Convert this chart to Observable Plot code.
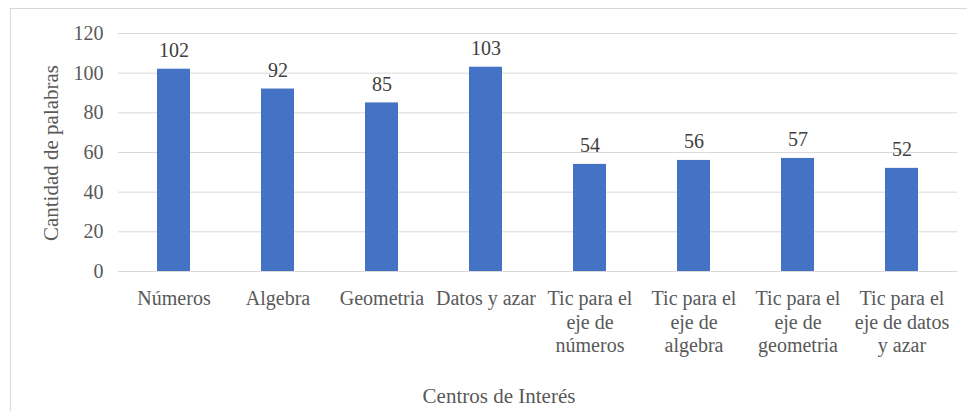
<!DOCTYPE html>
<html>
<head>
<meta charset="utf-8">
<script src="https://cdn.jsdelivr.net/npm/d3@7"></script>
<script src="https://cdn.jsdelivr.net/npm/@observablehq/plot@0.6"></script>
<style>
  html, body { margin: 0; padding: 0; background: #fff; }
  #wrap { position: relative; width: 967px; height: 411px; overflow: hidden; font-family: "Liberation Serif", "Tinos", "Times New Roman", "DejaVu Serif", serif; }
  #frame { position: absolute; left: 10px; top: 8px; width: 980px; height: 420px; border-top: 1px solid #d9d9d9; border-left: 1px solid #d9d9d9; box-sizing: border-box; }
  #chart { position: absolute; left: 0; top: 0; }
  .title { position: absolute; color: #595959; font-size: 21px; white-space: nowrap; }
  #xtitle { left: 499px; top: 384px; transform: translateX(-50%); }
  #ytitle { left: 51px; top: 153px; transform: translate(-50%, -50%) rotate(-90deg); }
</style>
</head>
<body>
<div id="wrap">
  <div id="frame"></div>
  <div id="chart"></div>
  <div class="title" id="xtitle">Centros de Interés</div>
  <div class="title" id="ytitle">Cantidad de palabras</div>
</div>
<script>
const categories = [
  "Números",
  "Algebra",
  "Geometria",
  "Datos y azar",
  "Tic para el\neje de\nnúmeros",
  "Tic para el\neje de\nalgebra",
  "Tic para el\neje de\ngeometria",
  "Tic para el\neje de datos\ny azar"
];
const values = [102, 92, 85, 103, 54, 56, 57, 52];
const yTicks = [0, 20, 40, 60, 80, 100, 120];

const data = categories.map((c, i) => ({category: c, value: values[i]}));
const FONT = '"Liberation Serif", "Tinos", "Times New Roman", "DejaVu Serif", serif';

const chart = Plot.plot({
  width: 967,
  height: 411,
  marginLeft: 118,
  marginRight: 10,
  marginTop: 33,
  marginBottom: 140,
  style: {fontFamily: FONT, background: "transparent", color: "#595959"},
  x: {domain: categories, paddingInner: 0.685, paddingOuter: 0.3425, align: 0.5},
  y: {domain: [0, 120]},
  marks: [
    Plot.gridY(yTicks, {stroke: "#d9d9d9", strokeOpacity: 1, strokeWidth: 1}),
    Plot.barY(data, {x: "category", y: "value", fill: "#4472C4"}),
    Plot.text(data, {x: "category", y: "value", text: d => String(d.value), lineAnchor: "bottom", dy: -12, fontSize: 20, fontFamily: FONT, fill: "#404040"}),
    Plot.axisY(yTicks, {tickSize: 0, tickPadding: 15, fontSize: 20, fontFamily: FONT, label: null, fill: "#595959"}),
    Plot.axisX({tickSize: 0, tickPadding: 17, fontSize: 20, fontFamily: FONT, lineHeight: 1.17, label: null, fill: "#595959"})
  ]
});
document.getElementById("chart").appendChild(chart);
</script>
</body>
</html>
